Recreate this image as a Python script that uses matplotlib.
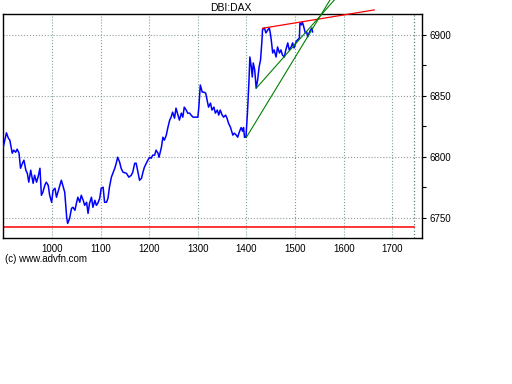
import numpy as np
import matplotlib
matplotlib.use('Agg')
import matplotlib.pyplot as plt
from matplotlib.ticker import MultipleLocator

plt.rcParams['font.family'] = ['Liberation Sans', 'DejaVu Sans']

# price series (bar index, DAX level)
idx = [899, 906, 910, 913, 918, 921, 925, 928, 932, 935, 939, 942, 946, 949, 952, 956, 961, 964, 968, 971,
       975, 978, 981, 985, 988, 992, 995, 999, 1002, 1006, 1009, 1012, 1016, 1019, 1023, 1026, 1030, 1032, 1036, 1040,
       1043, 1047, 1050, 1053, 1057, 1060, 1064, 1067, 1071, 1074, 1077, 1081, 1084, 1088, 1091, 1094, 1098, 1101, 1105, 1108,
       1112, 1115, 1118, 1122, 1125, 1129, 1132, 1135, 1139, 1142, 1146, 1153, 1158, 1163, 1166, 1170, 1173, 1177, 1180, 1184,
       1187, 1190, 1194, 1197, 1201, 1204, 1207, 1211, 1214, 1218, 1220, 1225, 1228, 1231, 1235, 1238, 1242, 1245, 1248, 1252,
       1255, 1259, 1262, 1266, 1269, 1272, 1276, 1279, 1283, 1286, 1290, 1293, 1300, 1302, 1305, 1309, 1312, 1316, 1319, 1322,
       1326, 1329, 1333, 1336, 1340, 1343, 1346, 1350, 1353, 1357, 1360, 1363, 1367, 1372, 1375, 1379, 1382, 1385, 1389, 1392,
       1394, 1396, 1399, 1402, 1405, 1407, 1410, 1412, 1414, 1417, 1420, 1423, 1426, 1429, 1432, 1433, 1437, 1440, 1444, 1447,
       1449, 1451, 1454, 1457, 1461, 1464, 1468, 1471, 1474, 1478, 1481, 1485, 1488, 1492, 1495, 1498, 1502, 1505, 1509, 1510,
       1513, 1515, 1518, 1521, 1524, 1526, 1529, 1532, 1535, 1536]
price = [6807.1, 6819.7, 6815.3, 6813.7, 6803.0, 6805.5, 6803.8, 6806.3, 6803.0, 6790.7, 6794.8, 6797.3, 6789.1, 6786.6, 6779.3, 6789.1, 6778.4, 6785.0, 6779.3, 6783.4,
         6790.7, 6768.6, 6771.1, 6776.8, 6779.3, 6776.8, 6768.6, 6762.9, 6772.7, 6774.3, 6767.0, 6771.1, 6776.8, 6780.9, 6775.2, 6771.1, 6750.6, 6745.6, 6749.7, 6757.9,
         6758.8, 6756.3, 6762.0, 6767.0, 6762.9, 6768.6, 6764.5, 6760.4, 6762.9, 6753.8, 6762.0, 6767.0, 6758.8, 6764.5, 6760.4, 6762.0, 6766.1, 6774.3, 6775.2, 6762.9,
         6762.9, 6766.1, 6775.2, 6783.4, 6786.6, 6790.7, 6794.8, 6799.7, 6795.7, 6790.7, 6787.5, 6786.6, 6783.4, 6785.0, 6787.5, 6794.8, 6794.8, 6786.6, 6780.9, 6782.5,
         6787.5, 6791.6, 6794.8, 6797.3, 6799.7, 6798.9, 6801.4, 6801.4, 6805.5, 6803.0, 6799.7, 6807.9, 6816.1, 6813.7, 6817.8, 6823.5, 6830.1, 6832.5, 6836.6, 6831.7,
         6839.9, 6834.2, 6830.1, 6835.8, 6832.5, 6840.7, 6838.3, 6835.8, 6835.8, 6834.2, 6832.5, 6832.5, 6832.5, 6840.7, 6858.8, 6853.0, 6853.0, 6852.2, 6846.5, 6840.7,
         6844.0, 6838.3, 6840.7, 6835.8, 6838.3, 6834.2, 6838.3, 6834.2, 6832.5, 6834.2, 6831.7, 6827.6, 6824.3, 6817.8, 6819.4, 6817.8, 6816.1, 6820.0, 6824.0, 6821.0,
         6824.0, 6816.1, 6816.1, 6835.8, 6860.4, 6881.7, 6873.5, 6865.3, 6876.8, 6871.1, 6856.3, 6862.9, 6873.5, 6879.3, 6895.7, 6903.9, 6905.5, 6901.4, 6903.9, 6905.5,
         6901.4, 6895.7, 6885.0, 6887.5, 6881.7, 6889.9, 6885.0, 6887.5, 6883.4, 6881.7, 6887.5, 6893.2, 6887.5, 6889.9, 6893.2, 6889.1, 6894.0, 6895.7, 6897.3, 6909.6,
         6908.0, 6910.4, 6906.3, 6901.4, 6902.2, 6898.1, 6901.4, 6903.9, 6905.5, 6902.2]

# trend lines (start/end points)
red_x = [1433, 1663]
red_y = [6905.2, 6920.2]
green1_x = [1400, 1572]
green1_y = [6816.1, 6928.4]
green2_x = [1420, 1581]
green2_y = [6856.1, 6928.4]
support = 6743
last_bar = 1745

x_ticks = [1000, 1100, 1200, 1300, 1400, 1500, 1600, 1700]
y_ticks = [6750, 6800, 6850, 6900]

fig = plt.figure(figsize=(5.12, 3.84), dpi=100)
ax = fig.add_axes([0.0059, 0.380, 0.819, 0.583])

ax.set_xlim(899, 1762)
ax.set_ylim(6733.6, 6916.7)

# grid
for xv in x_ticks:
    ax.axvline(xv, color='#7f9f9f', linestyle=':', linewidth=0.8, zorder=1)
for yv in y_ticks:
    ax.axhline(yv, color='#8c9c9c', linestyle=':', linewidth=0.8, zorder=1)
ax.axvline(last_bar, color='#5f7f7f', linestyle=':', linewidth=0.9, zorder=1)

# support line
ax.plot([899, last_bar], [support, support], color='red', linewidth=1.1, zorder=2)

# price
ax.plot(idx, price, color='#0000ff', linewidth=1.1, zorder=3)

# trend lines, allowed to run past the frame
ax.plot(red_x, red_y, color='red', linewidth=0.9, clip_on=False, zorder=4)
ax.plot(green1_x, green1_y, color='green', linewidth=0.8, clip_on=False, zorder=4)
ax.plot(green2_x, green2_y, color='green', linewidth=0.8, clip_on=False, zorder=4)

ax.set_xticks(x_ticks)
ax.set_yticks(y_ticks)
ax.yaxis.set_minor_locator(MultipleLocator(25))
ax.yaxis.tick_right()
ax.tick_params(axis='y', which='major', direction='out', length=3, width=0.8, labelsize=7, pad=2)
ax.tick_params(axis='y', which='minor', direction='out', length=3, width=0.8)
ax.tick_params(axis='x', length=0, labelsize=7, pad=4)
for s in ax.spines.values():
    s.set_linewidth(1.0)
    s.set_color('black')

fig.text(231 / 512, 1 - 8 / 384, 'DBI:DAX', ha='center', va='center', fontsize=7.5)
fig.text(5 / 512, 1 - 259 / 384, '(c) www.advfn.com', ha='left', va='center', fontsize=7)

fig.savefig('out.png', dpi=100)
